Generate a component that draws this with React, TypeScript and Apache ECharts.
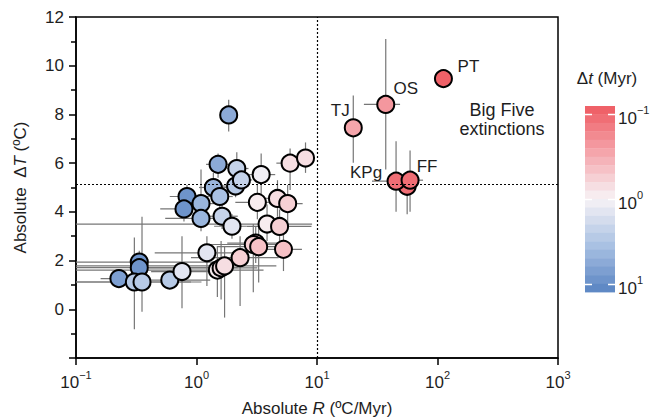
import React, { useEffect, useRef } from 'react';
import * as echarts from 'echarts';

// ---- data ----
const eventNames = ['', '', '', '', '', '', '', '', '', '', '', '', '', '', '', '', '', '', '', '', '', '', '', '', '', '', '', '', '', '', '', '', '', '', '', '', '', 'TJ', 'OS', '', 'KPg', 'FF', 'PT'];
const rates = [1.85, 0.227, 0.335, 0.335, 0.305, 0.353, 0.6, 0.758, 1.22, 1.49, 1.6, 1.71, 2.3, 3.1, 2.96, 3.28, 5.27, 3.85, 4.89, 3.2, 4.7, 5.71, 3.44, 5.98, 8.03, 1.51, 1.38, 2.11, 2.16, 2.36, 1.56, 0.834, 0.787, 1.09, 1.09, 1.63, 1.97, 20, 37.2, 56, 45.3, 59.2, 112];
const deltaT = [7.98, 1.26, 1.94, 1.71, 1.12, 1.12, 1.2, 1.55, 2.32, 1.61, 1.7, 1.78, 2.12, 2.72, 2.66, 2.57, 2.46, 3.5, 3.4, 4.39, 4.55, 4.34, 5.53, 6.0, 6.21, 5.95, 5.0, 5.06, 5.78, 5.31, 4.63, 4.63, 4.12, 4.34, 3.73, 3.82, 3.41, 7.45, 8.41, 5.05, 5.26, 5.3, 9.47];
const durations = [6, 7, 8, 8, 3, 3, 3, 1.5, 1.4, 0.8, 0.75, 0.7, 0.55, 0.58, 0.6, 0.5, 0.4, 0.9, 0.55, 0.95, 0.7, 0.55, 1.1, 0.75, 0.65, 6, 5, 2.8, 2.5, 2.3, 3.5, 9, 8, 5, 4, 2, 1.4, 0.3, 0.2, 0.11, 0.12, 0.1, 0.085];
const rateLow = [1.85, 0.16, 0.05, 0.05, 0.05, 0.05, 0.32, 0.42, 0.45, 0.05, 0.4, 0.05, 0.9, 1.8, 1.3, 1.5, 3.6, 0.05, 2.6, 2.1, 3.0, 4.0, 2.6, 4.6, 6.4, 1.2, 1.05, 1.6, 1.8, 1.9, 1.2, 0.6, 0.5, 0.8, 0.55, 1.2, 1.4, 20, 24.5, 56, 28.6, 50, 112];
const rateHigh = [1.85, 0.31, 1.6, 2.2, 1.1, 0.9, 1.3, 1.6, 2.6, 3.6, 3.2, 4.6, 4.8, 5.2, 5.5, 6.2, 7.5, 9.1, 9.0, 5.0, 6.5, 7.6, 4.5, 8.0, 9.6, 1.9, 1.9, 2.7, 2.7, 2.9, 2.0, 1.1, 1.0, 1.4, 1.5, 2.2, 2.6, 20, 48.9, 56, 55, 75.9, 112];
const deltaTLow = [7.3, 1.26, 1.4, 1.3, -0.82, -0.1, 1.2, 0.04, 0.96, 0.5, 0.4, -0.34, 0.14, 1.9, 0.7, 1.1, 1.57, 2.8, 2.6, 3.7, 3.8, 3.5, 4.4, 4.9, 5.6, 5.4, 4.4, 4.6, 5.2, 4.8, 4.1, 4.2, 3.6, 3.57, 3.2, 3.3, 2.9, 6.02, 5.74, 3.9, 4.0, 4.0, 9.47];
const deltaTHigh = [8.6, 1.26, 2.4, 2.1, 2.95, 3.8, 1.2, 3.0, 3.0, 2.6, 2.8, 2.6, 3.0, 3.4, 3.5, 3.6, 3.1, 4.3, 4.1, 5.1, 5.3, 5.1, 6.4, 6.6, 6.85, 6.4, 5.6, 5.6, 6.45, 5.9, 5.2, 5.1, 4.6, 5.74, 4.2, 4.4, 3.9, 8.78, 11.1, 5.6, 6.9, 6.52, 9.47];
const xTicks = [0.1, 1, 10, 100, 1000];
const colorbarTicks = [0.1, 1, 10];
const thresholdRate = 10;
const thresholdDeltaT = 5.15;

// label placement for the Big Five names (pixel offsets from the marker centre)
const labelOffsets: Record<string, [number, number]> = {
  PT: [25, -12],
  OS: [20, -16],
  TJ: [-13, -17],
  KPg: [-30, -9],
  FF: [17, -14],
};

// diverging colour scale over log10(Δt)
const LOG_MIN = -1.1;
const LOG_MAX = 1.1;
const colorStops = ['#ee5a61', '#f5a5ab', '#f7f3f6', '#a9c1e3', '#5883c2'];
const BANDS = 22;

function hexToRgb(h: string) {
  const n = parseInt(h.slice(1), 16);
  return [(n >> 16) & 255, (n >> 8) & 255, n & 255];
}
function colorAt(v: number) {
  const t = Math.max(0, Math.min(1, (v - LOG_MIN) / (LOG_MAX - LOG_MIN)));
  const seg = t * (colorStops.length - 1);
  const i = Math.min(colorStops.length - 2, Math.floor(seg));
  const f = seg - i;
  const a = hexToRgb(colorStops[i]);
  const b = hexToRgb(colorStops[i + 1]);
  const c = a.map((x, k) => Math.round(x + (b[k] - x) * f));
  return `rgb(${c[0]},${c[1]},${c[2]})`;
}
function bandColor(v: number) {
  const step = (LOG_MAX - LOG_MIN) / BANDS;
  let idx = Math.floor((v - LOG_MIN) / step);
  idx = Math.max(0, Math.min(BANDS - 1, idx));
  return colorAt(LOG_MIN + (idx + 0.5) * step);
}

const FONT = 'Liberation Sans, Arial, sans-serif';
const TXT = '#1e1e1e';
const FS = 17;

function supExp(v: number) {
  const e = Math.round(Math.log10(v));
  return e < 0 ? '\u2212' + -e : String(e);
}

export default function App() {
  const ref = useRef<HTMLDivElement>(null);
  useEffect(() => {
    if (!ref.current) return;
    const chart = echarts.init(ref.current, undefined, { renderer: 'svg' });

    const scatterData = rates.map((r, i) => {
      const lg = Math.log10(durations[i]);
      const name = eventNames[i];
      const item: any = {
        value: [r, deltaT[i], lg],
        name,
        itemStyle: { color: bandColor(lg) },
      };
      if (name) {
        item.label = {
          show: true,
          formatter: name,
          position: 'inside',
          offset: labelOffsets[name],
          color: TXT,
          fontSize: FS,
          fontFamily: FONT,
        };
      }
      return item;
    });
    const errData = rates.map((r, i) => [r, deltaT[i], rateLow[i], rateHigh[i], deltaTLow[i], deltaTHigh[i]]);

    // colour bar geometry
    const cb = { x: 585, y: 106, w: 30, h: 186 };
    const yOfLog = (lg: number) => cb.y + ((lg - LOG_MIN) / (LOG_MAX - LOG_MIN)) * cb.h;
    const bandH = cb.h / BANDS;
    const graphics: any[] = [];
    for (let i = 0; i < BANDS; i++) {
      const lg = LOG_MIN + (i + 0.5) * ((LOG_MAX - LOG_MIN) / BANDS);
      graphics.push({
        type: 'rect',
        shape: { x: cb.x, y: cb.y + i * bandH, width: cb.w, height: bandH + 0.4 },
        style: { fill: bandColor(lg) },
        silent: true,
      });
    }
    colorbarTicks.forEach((t) => {
      const y = Math.round(yOfLog(Math.log10(t))) + 0.5;
      graphics.push({ type: 'line', shape: { x1: cb.x, y1: y, x2: cb.x + 7, y2: y }, style: { stroke: '#fff', lineWidth: 1.5 } });
      graphics.push({ type: 'line', shape: { x1: cb.x + cb.w - 7, y1: y, x2: cb.x + cb.w, y2: y }, style: { stroke: '#fff', lineWidth: 1.5 } });
      graphics.push({
        type: 'text',
        x: cb.x + cb.w + 3,
        y: y + 1,
        style: {
          text: '{b|10}{s|' + supExp(t) + '}',
          verticalAlign: 'middle',
          align: 'left',
          rich: {
            b: { fontSize: FS, fontFamily: FONT, fill: TXT, lineHeight: 22, verticalAlign: 'bottom' },
            s: { fontSize: 11, fontFamily: FONT, fill: TXT, lineHeight: 11, verticalAlign: 'top' },
          },
        },
      });
    });
    graphics.push({
      type: 'text',
      x: 607,
      y: 78,
      style: {
        text: '\u0394{i|t} (Myr)',
        align: 'center',
        verticalAlign: 'middle',
        fontSize: FS,
        fontFamily: FONT,
        fill: TXT,
        rich: { i: { fontStyle: 'italic', fontSize: FS, fontFamily: FONT, fill: TXT } },
      },
    });
    graphics.push({
      type: 'text',
      x: 502,
      y: 119,
      style: {
        text: 'Big Five\nextinctions',
        align: 'center',
        verticalAlign: 'middle',
        fontSize: 18,
        lineHeight: 19,
        fontFamily: FONT,
        fill: TXT,
      },
    });

    chart.setOption({
      animation: false,
      textStyle: { fontFamily: FONT },
      grid: {
        left: 76, right: 93, top: 17, bottom: 60,
        outerBoundsMode: 'none',
        containLabel: false,
        show: true, borderColor: '#000', borderWidth: 1.5, backgroundColor: 'transparent',
      },
      xAxis: {
        type: 'log',
        logBase: 10,
        min: xTicks[0],
        max: xTicks[xTicks.length - 1],
        name: 'Absolute {i|R} (\u00baC/Myr)',
        nameLocation: 'middle',
        nameGap: 42,
        nameTextStyle: {
          fontSize: FS, color: TXT, fontFamily: FONT,
          rich: { i: { fontStyle: 'italic', fontSize: FS, color: TXT, fontFamily: FONT } },
        },
        axisLine: { onZero: false, lineStyle: { color: '#000', width: 1.5 } },
        axisTick: { length: 7, lineStyle: { color: '#000', width: 1.5 } },
        minorTick: { show: false },
        splitLine: { show: false },
        axisLabel: {
          margin: 11,
          color: TXT,
          formatter: (v: number) => '{b|10}{s|' + supExp(v) + '}',
          rich: {
            b: { fontSize: FS, fontFamily: FONT, color: TXT, lineHeight: 22, verticalAlign: 'bottom' },
            s: { fontSize: 11, fontFamily: FONT, color: TXT, lineHeight: 11, verticalAlign: 'top' },
          },
        },
      },
      yAxis: {
        type: 'value',
        min: -2,
        max: 12,
        interval: 2,
        name: 'Absolute  \u0394{i|T} (\u00baC)',
        nameLocation: 'middle',
        nameGap: 47,
        nameTextStyle: {
          fontSize: FS, color: TXT, fontFamily: FONT,
          rich: { i: { fontStyle: 'italic', fontSize: FS, color: TXT, fontFamily: FONT } },
        },
        axisLine: { onZero: false, lineStyle: { color: '#000', width: 1.5 } },
        axisTick: { length: 7, lineStyle: { color: '#000', width: 1.5 } },
        minorTick: { show: true, splitNumber: 2, length: 5, lineStyle: { color: '#000', width: 1.5 } },
        splitLine: { show: false },
        axisLabel: {
          margin: 12,
          fontSize: FS,
          color: TXT,
          fontFamily: FONT,
          formatter: (v: number) => (v < 0 ? '' : String(v)),
        },
      },
      visualMap: {
        show: false,
        type: 'continuous',
        seriesIndex: 1,
        dimension: 2,
        min: LOG_MIN,
        max: LOG_MAX,
        inRange: { color: colorStops },
      },
      graphic: graphics,
      series: [
        {
          type: 'custom',
          silent: true,
          z: 1,
          data: errData,
          encode: { x: [0, 2, 3], y: [1, 4, 5] },
          renderItem: (params: any, api: any) => {
            const cs = params.coordSys;
            const cx = (v: number) => Math.max(cs.x, Math.min(cs.x + cs.width, v));
            const cy = (v: number) => Math.max(cs.y, Math.min(cs.y + cs.height, v));
            const c = api.coord([api.value(0), api.value(1)]);
            const lo = api.coord([api.value(2), api.value(1)]);
            const hi = api.coord([api.value(3), api.value(1)]);
            const bl = api.coord([api.value(0), api.value(4)]);
            const bh = api.coord([api.value(0), api.value(5)]);
            const style = { stroke: '#767676', lineWidth: 1.2 };
            return {
              type: 'group',
              children: [
                { type: 'line', shape: { x1: cx(lo[0]), y1: c[1], x2: cx(hi[0]), y2: c[1] }, style },
                { type: 'line', shape: { x1: c[0], y1: cy(bl[1]), x2: c[0], y2: cy(bh[1]) }, style },
              ],
            };
          },
        },
        {
          type: 'scatter',
          z: 3,
          symbolSize: 17,
          data: scatterData,
          itemStyle: { borderColor: '#000', borderWidth: 2, opacity: 1 },
          emphasis: { disabled: true },
          markLine: {
            silent: true,
            symbol: 'none',
            label: { show: false },
            lineStyle: { color: '#000', type: [2, 2], width: 1.2 },
            data: [{ xAxis: thresholdRate }, { yAxis: thresholdDeltaT }],
          },
        },
      ],
    });
    return () => chart.dispose();
  }, []);
  return <div ref={ref} style={{ width: 651, height: 418, position: 'absolute', left: 0, top: 0, background: '#fff' }} />;
}
